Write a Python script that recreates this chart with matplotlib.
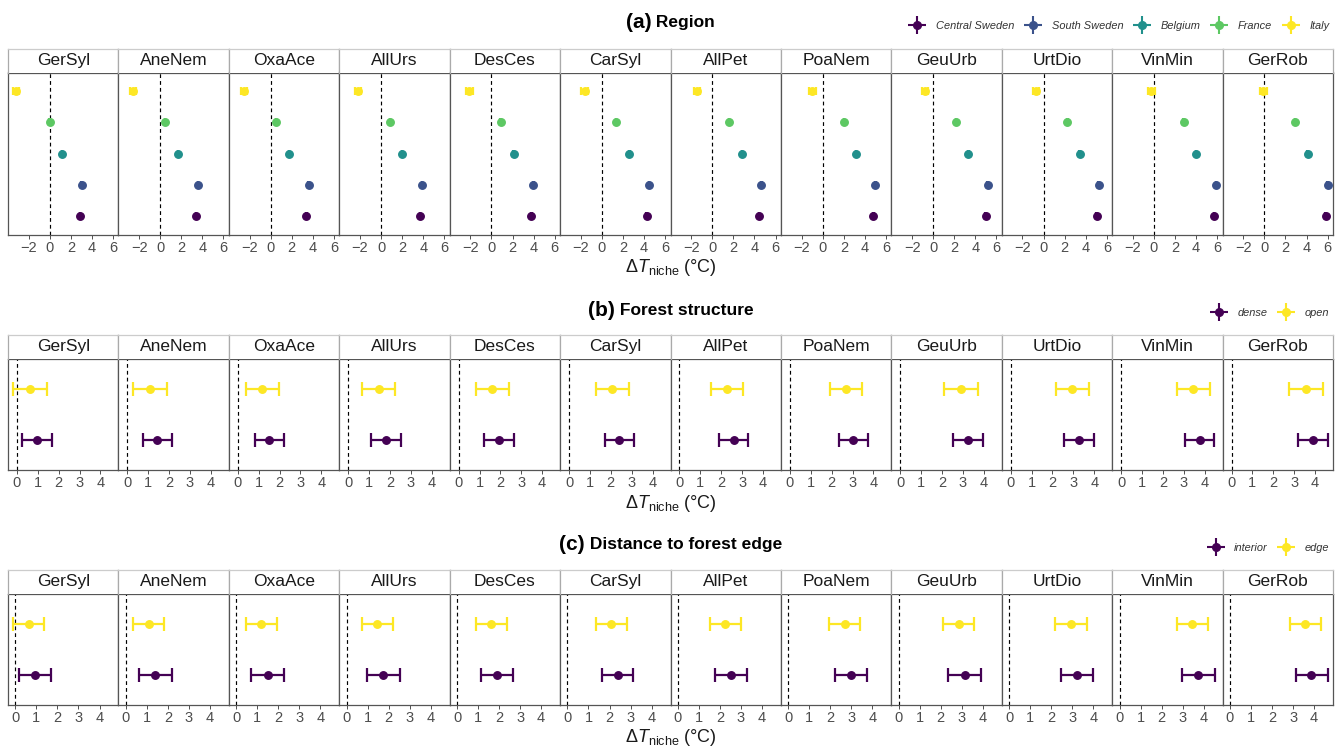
import matplotlib
matplotlib.use("Agg")
import matplotlib.pyplot as plt
from matplotlib.lines import Line2D
from matplotlib.legend_handler import HandlerTuple
import numpy as np

plt.rcParams['font.family'] = ['Liberation Sans', 'DejaVu Sans']
plt.rcParams['mathtext.fontset'] = 'custom'
plt.rcParams['mathtext.rm'] = 'Liberation Sans'
plt.rcParams['mathtext.it'] = 'Liberation Sans:italic'
plt.rcParams['mathtext.bf'] = 'Liberation Sans:bold'

# ---------------- data ----------------
species = ["GerSyl", "AneNem", "OxaAce", "AllUrs", "DesCes", "CarSyl",
           "AllPet", "PoaNem", "GeuUrb", "UrtDio", "VinMin", "GerRob"]

region_names = ["Central Sweden", "South Sweden", "Belgium", "France", "Italy"]
region_central = [2.87, 3.39, 3.37, 3.70, 3.77, 4.24, 4.44, 4.80, 4.98, 5.05, 5.70, 5.82]
region_south = [3.03, 3.58, 3.60, 3.87, 3.97, 4.48, 4.65, 4.98, 5.17, 5.23, 5.89, 6.00]
region_belgium = [1.15, 1.69, 1.75, 2.00, 2.09, 2.60, 2.80, 3.17, 3.35, 3.42, 4.00, 4.11]
region_france = [-0.03, 0.45, 0.50, 0.84, 0.88, 1.35, 1.58, 2.00, 2.18, 2.25, 2.82, 2.91]
region_italy = [-3.19, -2.58, -2.50, -2.20, -2.10, -1.65, -1.45, -0.98, -0.80, -0.74, -0.25, -0.10]
region_err = [0.03, 0.03, 0.03, 0.03, 0.30]  # half-width of CI per region

structure_names = ["dense", "open"]
dense_mean = [0.97, 1.43, 1.50, 1.80, 1.93, 2.41, 2.60, 3.03, 3.22, 3.27, 3.77, 3.88]
dense_lo = [0.25, 0.75, 0.83, 1.10, 1.23, 1.72, 1.90, 2.33, 2.52, 2.57, 3.07, 3.20]
dense_hi = [1.68, 2.14, 2.22, 2.52, 2.65, 3.11, 3.30, 3.73, 3.94, 4.00, 4.46, 4.62]
open_mean = [0.62, 1.10, 1.15, 1.47, 1.61, 2.06, 2.28, 2.68, 2.90, 2.95, 3.45, 3.56]
open_lo = [-0.19, 0.27, 0.38, 0.67, 0.83, 1.29, 1.50, 1.90, 2.09, 2.17, 2.66, 2.75]
open_hi = [1.43, 1.89, 1.98, 2.25, 2.39, 2.87, 3.06, 3.46, 3.70, 3.73, 4.24, 4.37]

edge_names = ["interior", "edge"]
interior_mean = [0.92, 1.41, 1.51, 1.75, 1.91, 2.39, 2.54, 3.00, 3.15, 3.23, 3.75, 3.87]
interior_lo = [0.16, 0.62, 0.72, 0.98, 1.14, 1.62, 1.78, 2.23, 2.36, 2.46, 2.98, 3.13]
interior_hi = [1.71, 2.18, 2.28, 2.52, 2.68, 3.13, 3.31, 3.76, 3.92, 4.00, 4.52, 4.66]
edge_mean = [0.65, 1.10, 1.19, 1.46, 1.62, 2.07, 2.25, 2.68, 2.86, 2.94, 3.46, 3.59]
edge_lo = [-0.11, 0.36, 0.48, 0.74, 0.90, 1.35, 1.54, 1.96, 2.12, 2.20, 2.74, 2.85]
edge_hi = [1.37, 1.83, 1.93, 2.20, 2.36, 2.81, 3.02, 3.42, 3.60, 3.70, 4.19, 4.31]

viridis5 = ["#440154", "#3B528B", "#21908C", "#5DC863", "#FDE725"]
viridis2 = ["#440154", "#FDE725"]

# ---------------- layout ----------------
W, H = 1341, 747
fig = plt.figure(figsize=(W / 100, H / 100), dpi=100)
fig.patch.set_facecolor("white")

x0, x1 = 8, 1333
pw = (x1 - x0) / len(species)

rows = [
    dict(tag="(a)", title="Region", strip_top=49, ptop=72.5, pbot=235, ticks=[-2, 0, 2, 4, 6],
         ty=22, leg_y=26, xl_y=268, capsize=3.2),
    dict(tag="(b)", title="Forest structure", strip_top=335, ptop=358.5, pbot=470, ticks=[0, 1, 2, 3, 4],
         ty=310, leg_y=313, xl_y=503, capsize=5),
    dict(tag="(c)", title="Distance to forest edge", strip_top=570, ptop=593.5, pbot=705, ticks=[0, 1, 2, 3, 4],
         ty=545, leg_y=548, xl_y=737, capsize=5),
]


def fx(px):
    return px / W


def fy(py):
    return 1 - py / H


def build_series(r):
    if r == 0:
        means = [region_central, region_south, region_belgium, region_france, region_italy]
        los = [[m - e for m in ms] for ms, e in zip(means, region_err)]
        his = [[m + e for m in ms] for ms, e in zip(means, region_err)]
        return region_names, means, los, his, viridis5
    if r == 1:
        return (structure_names, [dense_mean, open_mean], [dense_lo, open_lo],
                [dense_hi, open_hi], viridis2)
    return (edge_names, [interior_mean, edge_mean], [interior_lo, edge_lo],
            [interior_hi, edge_hi], viridis2)


renderer = fig.canvas.get_renderer()

for r, cfg in enumerate(rows):
    names, means, los, his, cols = build_series(r)
    n = len(names)
    allv = np.concatenate([np.array(v) for v in los + his])
    lo_, hi_ = allv.min(), allv.max()
    span = hi_ - lo_
    xlim = (lo_ - 0.05 * span, hi_ + 0.05 * span)
    ylim = (0.4, n + 0.6)

    for j, sp in enumerate(species):
        left = x0 + j * pw
        ax = fig.add_axes([fx(left), fy(cfg["pbot"]), pw / W, (cfg["pbot"] - cfg["ptop"]) / H])
        ax.set_xlim(*xlim)
        ax.set_ylim(*ylim)
        ax.axvline(0, color="black", lw=0.85, ls=(0, (3.2, 2.6)), zorder=1)
        for k in range(n):
            m = means[k][j]
            ypos = k + 1
            ax.errorbar([m], [ypos], xerr=[[m - los[k][j]], [his[k][j] - m]],
                        fmt="o", color=cols[k], ms=5.4, elinewidth=1.6, capsize=cfg["capsize"],
                        capthick=1.6, zorder=3)
        ax.set_yticks([])
        ax.set_xticks(cfg["ticks"])
        ax.set_xticklabels([("\u2212" + str(-t)) if t < 0 else str(t) for t in cfg["ticks"]])
        ax.tick_params(axis="x", length=3, width=0.6, color="#333333", labelsize=10.5,
                       labelcolor="#4D4D4D", pad=1.5)
        for s in ax.spines.values():
            s.set_color("#555555")
            s.set_linewidth(0.9)

        # strip
        sax = fig.add_axes([fx(left), fy(cfg["ptop"]), pw / W, (cfg["ptop"] - cfg["strip_top"]) / H])
        sax.set_xticks([])
        sax.set_yticks([])
        sax.set_xlim(0, 1)
        sax.set_ylim(0, 1)
        sax.spines["top"].set_color("#CCCCCC")
        sax.spines["bottom"].set_visible(False)
        sax.spines["left"].set_color("#AAAAAA")
        sax.spines["right"].set_color("#AAAAAA")
        for s in sax.spines.values():
            s.set_linewidth(0.9)
        sax.text(0.5, 0.5, sp, ha="center", va="center", fontsize=12.5, color="#1A1A1A")

    # title: tag + text, centered as a whole
    t1 = fig.text(0, fy(cfg["ty"]), cfg["tag"], fontsize=15, fontweight="bold", va="center", ha="left")
    t2 = fig.text(0, fy(cfg["ty"]), " " + cfg["title"], fontsize=12.5, fontweight="bold", va="center", ha="left")
    w1 = t1.get_window_extent(renderer).width
    w2 = t2.get_window_extent(renderer).width
    start = (x0 + x1) / 2 - (w1 + w2) / 2
    t1.set_x(fx(start))
    t2.set_x(fx(start + w1))

    # x label
    fig.text(fx((x0 + x1) / 2), fy(cfg["xl_y"]), r"$\Delta T_{\mathrm{niche}}\ (\degree\mathrm{C})$",
             ha="center", va="center", fontsize=13, color="#1A1A1A")

    # legend
    handles = []
    for k in range(n):
        h1 = Line2D([], [], marker="o", ls="none", color=cols[k], ms=5.5)
        h2 = Line2D([], [], marker="+", ls="none", color=cols[k], ms=13, mew=1.5)
        handles.append((h2, h1))
    leg = fig.legend(handles, names, loc="center right", bbox_to_anchor=(fx(1334), fy(cfg["leg_y"])),
                     ncol=n, frameon=False, prop=dict(size=7.9, style="italic"),
                     handler_map={tuple: HandlerTuple(ndivide=1, pad=0)},
                     handlelength=1.4, handletextpad=1.0, columnspacing=1.0, borderaxespad=0)
    for t in leg.get_texts():
        t.set_color("#333333")

fig.savefig("out.png", dpi=100, facecolor="white")
